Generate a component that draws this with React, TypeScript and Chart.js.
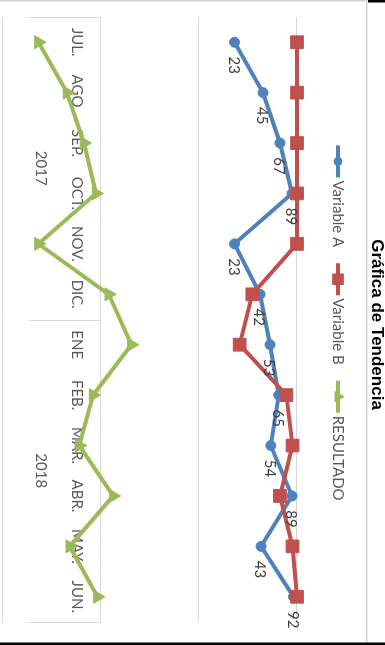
import React, { useEffect, useRef } from 'react';
import { Chart, registerables } from 'chart.js';
import { drawPoint } from 'chart.js/helpers';

Chart.register(...registerables);

// ---- data ----
const months = ['JUL.', 'AGO.', 'SEP.', 'OCT.', 'NOV.', 'DIC.', 'ENE', 'FEB.', 'MAR.', 'ABR.', 'MAY.', 'JUN.'];
const years = ['2017', '2018'];
const yearSpans = [6, 6];
const variableA = [23, 45, 67, 89, 23, 42, 53, 65, 54, 89, 43, 92];
const variableB = [100, 100, 100, 100, 100, 35, 26, 78, 90, 67, 90, 100];
const resultado = [0.23, 0.45, 0.67, 0.89, 0.23, 1.2, 2.04, 0.83, 0.6, 1.33, 0.48, 0.92];
const gridTicks = [0.1, 1, 10, 100];
const seriesNames = ['Variable A', 'Variable B', 'RESULTADO'];
const titleText = 'Gráfica de Tendencia';

// ---- styles ----
const W = 645;
const H = 385;
const BLUE = '#4F81BD';
const RED = '#C0504D';
const GREEN = '#9BBB59';
const COLORS = [BLUE, RED, GREEN];
const STYLES = ['circle', 'rect', 'triangle'];
const LEGEND_RADII = [4, 7.5, 6];
const FONT = 'Lato, "Open Sans", sans-serif';
const TITLE_FONT = 'bold 17px "Liberation Sans", Arial, sans-serif';
const GRID = '#d9d9d9';

const framePlugin = {
  id: 'frame',
  beforeDraw(chart: any) {
    const ctx = chart.ctx;
    ctx.save();
    ctx.fillStyle = '#ffffff';
    ctx.fillRect(0, 0, chart.width, chart.height);
    ctx.restore();
  },
  afterDraw(chart: any) {
    const ctx = chart.ctx;
    const w = chart.width;
    const h = chart.height;
    ctx.save();
    ctx.fillStyle = '#d4d4d4';
    ctx.fillRect(0, 17.5, w - 2.5, 1.5);
    ctx.fillRect(0, 19, 1.5, h - 19);
    ctx.fillStyle = '#000000';
    ctx.fillRect(0, 0, 2.5, 17);
    ctx.fillRect(w - 2.5, 0, 2.5, h);
    // title
    ctx.fillStyle = '#000000';
    ctx.font = TITLE_FONT;
    ctx.textAlign = 'center';
    ctx.textBaseline = 'middle';
    ctx.fillText(titleText, w / 2 + 2, 8);
    ctx.restore();
  },
};

const groupPlugin = {
  id: 'groups',
  afterDraw(chart: any) {
    const xs = chart.scales.x;
    const ys = chart.scales.y;
    const ctx = chart.ctx;
    const area = chart.chartArea;
    const axisY = ys.getPixelForValue(1);
    const bottomY = axisY + 72;
    const bounds = [area.left];
    let idx = 0;
    yearSpans.forEach((n) => {
      idx += n;
      if (idx >= months.length) bounds.push(area.right);
      else bounds.push((xs.getPixelForValue(idx - 1) + xs.getPixelForValue(idx)) / 2);
    });
    ctx.save();
    ctx.strokeStyle = GRID;
    ctx.lineWidth = 1;
    bounds.forEach((b) => {
      const px = Math.round(b) + 0.5;
      ctx.beginPath();
      ctx.moveTo(px, axisY);
      ctx.lineTo(px, bottomY);
      ctx.stroke();
    });
    ctx.fillStyle = '#595959';
    ctx.font = `15px ${FONT}`;
    ctx.textAlign = 'center';
    ctx.textBaseline = 'middle';
    years.forEach((yr, i) => {
      ctx.fillText(yr, (bounds[i] + bounds[i + 1]) / 2, axisY + 60);
    });
    ctx.restore();
  },
};

const labelPlugin = {
  id: 'valueLabels',
  afterDatasetsDraw(chart: any) {
    const ctx = chart.ctx;
    const meta = chart.getDatasetMeta(0);
    ctx.save();
    ctx.fillStyle = '#404040';
    ctx.font = `15px ${FONT}`;
    ctx.textAlign = 'center';
    ctx.textBaseline = 'middle';
    meta.data.forEach((pt: any, i: number) => {
      ctx.fillText(String(variableA[i]), pt.x + 23, pt.y + 1);
    });
    ctx.restore();
  },
};

const legendPlugin = {
  id: 'lineLegend',
  afterDraw(chart: any) {
    const ctx = chart.ctx;
    ctx.save();
    ctx.font = `15px ${FONT}`;
    const symW = 32;
    const gapText = 3;
    const gapItem = 16;
    const widths = seriesNames.map((n) => ctx.measureText(n).width);
    const total = widths.reduce((s, w) => s + symW + gapText + w, 0) + gapItem * (seriesNames.length - 1);
    let x = (chart.width - total) / 2 + 0.5;
    const y = 47;
    seriesNames.forEach((name, i) => {
      ctx.strokeStyle = COLORS[i];
      ctx.lineWidth = 4;
      ctx.beginPath();
      ctx.moveTo(x, y);
      ctx.lineTo(x + symW, y);
      ctx.stroke();
      ctx.fillStyle = COLORS[i];
      ctx.lineWidth = 1;
      drawPoint(ctx, { pointStyle: STYLES[i], radius: LEGEND_RADII[i], rotation: 0, borderWidth: 1 } as any, x + symW / 2, y);
      ctx.fillStyle = '#595959';
      ctx.textAlign = 'left';
      ctx.textBaseline = 'middle';
      ctx.fillText(name, x + symW + gapText, y);
      x += symW + gapText + widths[i] + gapItem;
    });
    ctx.restore();
  },
};

export default function App() {
  const ref = useRef<HTMLCanvasElement | null>(null);

  useEffect(() => {
    document.body.style.overflow = 'hidden';
    const canvas = ref.current;
    if (!canvas) return;
    const chart = new Chart(canvas, {
      type: 'line',
      data: {
        labels: months,
        datasets: [
          {
            label: seriesNames[0],
            data: variableA,
            borderColor: BLUE,
            backgroundColor: BLUE,
            borderWidth: 4,
            pointStyle: 'circle',
            pointRadius: 5,
            pointBorderWidth: 1,
            clip: false,
            order: 3,
          },
          {
            label: seriesNames[1],
            data: variableB,
            borderColor: RED,
            backgroundColor: RED,
            borderWidth: 4,
            pointStyle: 'rect',
            pointRadius: 9,
            pointBorderWidth: 1,
            clip: false,
            order: 2,
          },
          {
            label: seriesNames[2],
            data: resultado,
            borderColor: GREEN,
            backgroundColor: GREEN,
            borderWidth: 4,
            pointStyle: 'triangle',
            pointRadius: 7.5,
            pointBorderWidth: 1,
            clip: false,
            order: 1,
          },
        ] as any,
      },
      options: {
        animation: false,
        responsive: false,
        devicePixelRatio: 1,
        layout: { autoPadding: false, padding: { top: 88, left: 17, right: 23, bottom: 3 } } as any,
        plugins: {
          legend: { display: false },
          tooltip: { enabled: false },
          title: { display: false },
        },
        scales: {
          x: {
            type: 'category',
            position: { y: 1 } as any,
            offset: true,
            grid: { display: false, drawTicks: false },
            border: { display: false },
            ticks: {
              color: '#595959',
              font: { family: FONT, size: 15 },
              padding: 15,
              maxRotation: 0,
              autoSkip: false,
            },
            afterFit: (s: any) => {
              s.paddingTop = 0;
              s.paddingBottom = 0;
              s.paddingLeft = 0;
              s.paddingRight = 0;
            },
          },
          y: {
            type: 'logarithmic',
            min: 0.1,
            max: 100,
            grid: { color: GRID, lineWidth: 1, drawTicks: false },
            border: { display: false },
            ticks: { display: false },
            afterBuildTicks: (scale: any) => {
              scale.ticks = gridTicks.map((v) => ({ value: v }));
            },
          },
        },
      },
      plugins: [framePlugin, groupPlugin, labelPlugin, legendPlugin],
    });
    return () => chart.destroy();
  }, []);

  return (
    <div
      style={{
        position: 'absolute',
        left: 0,
        top: 0,
        width: W,
        height: H,
        transformOrigin: '0 0',
        transform: `translate(${H}px, 0) rotate(90deg)`,
      }}
    >
      <canvas ref={ref} width={W} height={H} style={{ display: 'block', width: W, height: H }} />
    </div>
  );
}
